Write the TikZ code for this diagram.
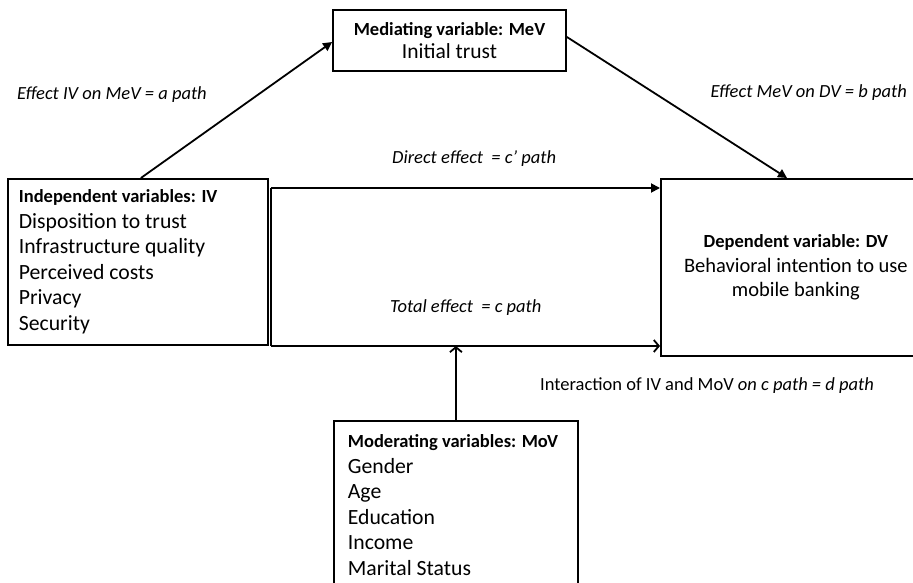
\documentclass[tikz,border=0pt]{standalone}
\usepackage{fontspec}
\setmainfont{Carlito}
\usetikzlibrary{arrows.meta,calc}
\begin{document}
\begin{tikzpicture}[x=1pt,y=-1pt,
  box/.style={draw, line width=1.8pt, rectangle, inner ysep=0pt},
  big/.style={font=\fontsize{21.7}{25.5}\selectfont},
  lab/.style={font=\fontsize{18.5}{20}\selectfont\itshape, inner sep=0pt},
  conn/.style={line width=1.8pt},
  tip/.style={-{Triangle[length=9pt,width=9pt]}},
  barb/.style={-{Straight Barb[length=5pt,width=12pt,line width=1.8pt]}}]
\clip (0,0) rectangle (913,583);
\fill[white] (0,0) rectangle (913,583);

\node[box, anchor=north west, minimum width=260pt, minimum height=166pt,
      inner xsep=11pt, text width=238pt, align=flush left, big] (IV) at (7,178)
  {{\fontsize{18.5}{25.5}\selectfont\bfseries Independent variables: IV}\\
   Disposition to trust\\ Infrastructure quality\\ Perceived costs\\ Privacy\\ Security};

\node[box, minimum width=233pt, minimum height=61pt, align=center,
      font=\fontsize{21.5}{23}\selectfont] (MeV) at (449.5,40.5)
  {{\fontsize{18.5}{23}\selectfont\bfseries Mediating variable: MeV}\\ Initial trust};

\node[box, anchor=north west, minimum width=270pt, minimum height=177pt, align=center,
      font=\fontsize{20.5}{24.5}\selectfont] (DV) at (660,178)
  {{\fontsize{18.5}{24.5}\selectfont\bfseries Dependent variable: DV}\\
   Behavioral intention to use\\ mobile banking};

\node[box, anchor=north west, minimum width=244pt, minimum height=168pt,
      inner xsep=14pt, text width=216pt, align=flush left, big] (MoV) at (333,420)
  {{\fontsize{18.5}{25.5}\selectfont\bfseries Moderating variables: MoV}\\
   Gender\\ Age\\ Education\\ Income\\ Marital Status};

\node[lab, anchor=west] (la) at (17,95) {Effect IV on MeV = a path};
\node[lab, anchor=east] (lb) at (907,93) {Effect MeV on DV = b path};
\node[lab, anchor=west] (lcp) at (392,159) {Direct effect\ \ = c’ path};
\node[lab, anchor=west] (lc) at (390,308) {Total effect\ \ = c path};
\node[lab, anchor=west, font=\fontsize{18.5}{20}\selectfont] (ld) at (540,386)
  {Interaction of IV and MoV \textit{on c path = d path}};

\coordinate (jt) at ($(IV.east |- 0,188)+(2,0)$);
\coordinate (jb) at ($(IV.east |- 0,346)+(2,0)$);
\draw[conn] (jt) -- (jb);
\draw[conn,tip] (jt) -- (jt -| DV.west);
\draw[conn,barb] (jb) -- (jb -| DV.west);

\draw[conn,tip] ($(IV.north)+(3,0)$) -- (MeV.west |- 0,42);
\draw[conn,tip] (MeV.east |- 0,37) -- ($(DV.north west)+(127,0)$);
\draw[conn,barb] (MoV.north) -- (MoV.north |- jb);
\end{tikzpicture}
\end{document}
